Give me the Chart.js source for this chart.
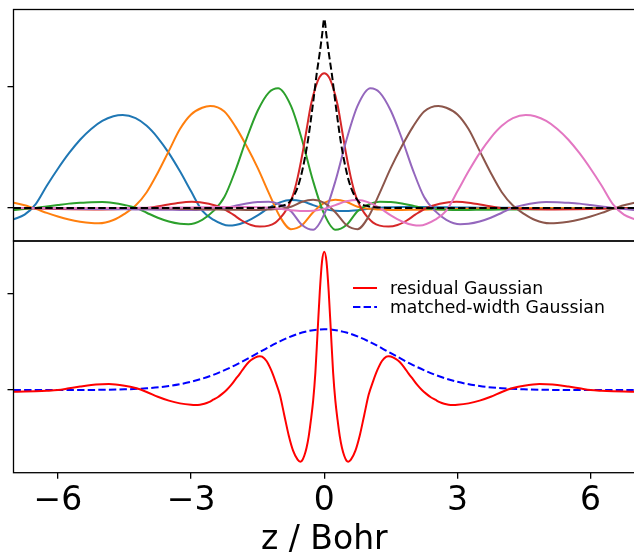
<!DOCTYPE html>
<html>
<head>
<meta charset="utf-8">
<script src="https://cdn.jsdelivr.net/npm/chart.js@4.4.0/dist/chart.umd.min.js"></script>
<style>
html,body{margin:0;padding:0;background:#fff;overflow:hidden;}
#wrap{position:relative;width:634px;height:555px;overflow:hidden;font-family:"DejaVu Sans",sans-serif;}
#wrap canvas{position:absolute;left:0;top:0;}
#legend{position:absolute;left:353px;top:279px;font-size:17.3px;color:#000;}
.row{display:flex;align-items:center;height:18.4px;white-space:nowrap;}
.row svg{margin-right:13px;}
</style>
</head>
<body>
<div id="wrap">
  <canvas id="topChart" width="640" height="555"></canvas>
  <canvas id="bottomChart" width="640" height="555"></canvas>
  <div id="legend">
    <div class="row"><svg width="24" height="4"><line x1="0" y1="2" x2="24" y2="2" stroke="#ff0000" stroke-width="2"/></svg>residual Gaussian</div>
    <div class="row"><svg width="24" height="4"><line x1="0" y1="2" x2="24" y2="2" stroke="#0000ff" stroke-width="2" stroke-dasharray="7.4 3.2"/></svg>matched-width Gaussian</div>
  </div>
</div>
<script>
// ---------- DATA ----------
const X_TICKS = [-6, -3, 0, 3, 6];
const Y_TICKS = [0, 1];

// top panel: localized functions (z in Bohr)
const BLUE_Z = [-7,-6.75,-6.5,-6.25,-6,-5.75,-5.5,-5.25,-5,-4.75,-4.54,-4.25,-4,-3.75,-3.5,-3.25,-3,-2.75,-2.5,-2.15,-2,-1.75,-1.5,-1.25,-1,-0.75,-0.5,-0.25,0,0.25,0.5,0.75,1,1.25,1.5,1.75,2,2.25,2.5,2.75,3,3.25,3.5,3.75,4,4.25,4.5,4.75,5,5.25,5.5,5.75,6,6.25,6.5,6.75,7];
const BLUE_V = [-0.093,-0.055,0.032,0.183,0.323,0.451,0.562,0.651,0.717,0.755,0.765,0.739,0.676,0.578,0.452,0.302,0.137,-0.022,-0.096,-0.145,-0.140,-0.111,-0.061,0,0.046,0.066,0.055,0.024,-0.007,-0.022,-0.024,-0.018,-0.006,0.003,0.006,0.008,0.008,0.008,0.007,0.006,0.005,0.004,0.003,0.002,0.002,0.001,0,0,0,0,0,0,0,0,0,0,0];

const ORANGE_Z = [-7,-6.75,-6.5,-6.25,-6,-5.75,-5.5,-5.25,-5.08,-4.75,-4.5,-4.25,-4,-3.75,-3.5,-3.25,-3,-2.75,-2.57,-2.25,-2,-1.75,-1.5,-1.25,-1,-0.75,-0.5,-0.25,0,0.25,0.5,0.75,1,1.25,1.5,1.75,2,2.25,2.5,2.75,3,3.25,3.5,3.75,4,4.25,4.5,4.75,5,5.25,5.5,5.75,6,6.25,6.5,6.75,7];
const ORANGE_V = [0.043,0.022,-0.007,-0.040,-0.070,-0.095,-0.113,-0.124,-0.126,-0.099,-0.049,0.02,0.13,0.29,0.47,0.65,0.77,0.825,0.84,0.795,0.67,0.51,0.33,0.125,-0.07,-0.174,-0.140,-0.035,0.042,0.068,0.051,0.01,-0.007,-0.013,-0.016,-0.016,-0.015,-0.014,-0.012,-0.011,-0.009,-0.007,-0.005,-0.003,-0.002,-0.001,0,0,0,0,0,0,0,0,0,0,0];

const GREEN_Z = [-7,-6.75,-6.5,-6.25,-6,-5.75,-5.5,-5.25,-5,-4.75,-4.5,-4.25,-4,-3.75,-3.5,-3.25,-3.06,-2.75,-2.5,-2.25,-2,-1.75,-1.5,-1.25,-1.04,-0.75,-0.5,-0.25,0,0.25,0.5,0.75,1,1.25,1.5,1.75,2,2.25,2.5,2.75,3,3.25,3.5,3.75,4,4.25,4.5,4.75,5,5.25,5.5,5.75,6,6.25,6.5,6.75,7];
const GREEN_V = [-0.016,-0.009,0,0.013,0.025,0.036,0.043,0.048,0.049,0.041,0.025,0.003,-0.039,-0.080,-0.111,-0.130,-0.134,-0.097,-0.026,0.09,0.31,0.57,0.80,0.95,0.985,0.84,0.56,0.22,-0.051,-0.179,-0.140,-0.027,0.030,0.051,0.049,0.037,0.018,-0.003,-0.010,-0.014,-0.016,-0.016,-0.015,-0.014,-0.013,-0.012,-0.011,-0.010,-0.009,-0.008,-0.007,-0.006,-0.004,-0.003,-0.002,-0.001,0];

const RED_Z = [-7,-6,-5,-4.5,-4,-3.4,-2.98,-2.6,-2.3,-2.05,-1.85,-1.65,-1.45,-1.25,-1.1,-1,-0.9,-0.8,-0.7,-0.6,-0.5,-0.4,-0.3,-0.2,-0.1,0,0.1,0.2,0.3,0.4,0.5,0.6,0.7,0.8,0.9,1,1.1,1.25,1.45,1.65,1.85,2.05,2.3,2.6,2.98,3.4,4,4.5,5,6,7];
const RED_V = [0,-0.008,-0.012,-0.009,0,0.035,0.052,0.035,0,-0.055,-0.105,-0.14,-0.153,-0.145,-0.12,-0.085,-0.04,0.02,0.11,0.25,0.43,0.64,0.85,0.99,1.08,1.109,1.08,0.99,0.85,0.64,0.43,0.25,0.11,0.02,-0.04,-0.085,-0.12,-0.145,-0.153,-0.14,-0.105,-0.055,0,0.035,0.052,0.035,0,-0.009,-0.012,-0.008,0];

const PURPLE_Z = [-7,-6.75,-6.5,-6.25,-6,-5.75,-5.5,-5.25,-5,-4.75,-4.5,-4.25,-4,-3.75,-3.5,-3.25,-3,-2.75,-2.5,-2.25,-2,-1.75,-1.5,-1.25,-1,-0.75,-0.5,-0.25,0,0.25,0.5,0.75,1.04,1.25,1.5,1.75,2,2.25,2.5,2.75,3.06,3.25,3.5,3.75,4,4.25,4.5,4.75,5,5.25,5.5,5.75,6,6.25,6.5,6.75,7];
const PURPLE_V = [0,-0.001,-0.002,-0.003,-0.004,-0.006,-0.007,-0.008,-0.009,-0.010,-0.011,-0.012,-0.013,-0.014,-0.015,-0.016,-0.016,-0.014,-0.010,-0.003,0.018,0.037,0.049,0.051,0.030,-0.027,-0.140,-0.179,-0.051,0.22,0.56,0.84,0.985,0.95,0.80,0.57,0.31,0.09,-0.026,-0.097,-0.134,-0.130,-0.111,-0.080,-0.039,0.003,0.025,0.041,0.049,0.048,0.043,0.036,0.025,0.013,0,-0.009,-0.016];

const BROWN_Z = [-7,-6.75,-6.5,-6.25,-6,-5.75,-5.5,-5.25,-5,-4.75,-4.5,-4.25,-4,-3.75,-3.5,-3.25,-3,-2.75,-2.5,-2.25,-2,-1.75,-1.5,-1.25,-1,-0.75,-0.5,-0.25,0,0.25,0.5,0.75,1,1.25,1.5,1.75,2,2.25,2.57,2.75,3,3.25,3.5,3.75,4,4.25,4.5,4.75,5.08,5.25,5.5,5.75,6,6.25,6.5,6.75,7];
const BROWN_V = [0,0,0,0,0,0,0,0,0,0,0,-0.001,-0.002,-0.003,-0.005,-0.007,-0.009,-0.011,-0.012,-0.014,-0.015,-0.016,-0.016,-0.013,-0.007,0.01,0.051,0.068,0.042,-0.035,-0.140,-0.174,-0.07,0.125,0.33,0.51,0.67,0.795,0.84,0.825,0.77,0.65,0.47,0.29,0.13,0.02,-0.049,-0.099,-0.126,-0.124,-0.113,-0.095,-0.070,-0.040,-0.007,0.022,0.043];

const PINK_Z = [-7,-6.75,-6.5,-6.25,-6,-5.75,-5.5,-5.25,-5,-4.75,-4.5,-4.25,-4,-3.75,-3.5,-3.25,-3,-2.75,-2.5,-2.25,-2,-1.75,-1.5,-1.25,-1,-0.75,-0.5,-0.25,0,0.25,0.5,0.75,1,1.25,1.5,1.75,2,2.15,2.5,2.75,3,3.25,3.5,3.75,4,4.25,4.54,4.75,5,5.25,5.5,5.75,6,6.25,6.5,6.75,7];
const PINK_V = [0,0,0,0,0,0,0,0,0,0,0,0.001,0.002,0.002,0.003,0.004,0.005,0.006,0.007,0.008,0.008,0.008,0.006,0.003,-0.006,-0.018,-0.024,-0.022,-0.007,0.024,0.055,0.066,0.046,0,-0.061,-0.111,-0.140,-0.145,-0.096,-0.022,0.137,0.302,0.452,0.578,0.676,0.739,0.765,0.755,0.717,0.651,0.562,0.451,0.323,0.183,0.032,-0.055,-0.093];

const BLACK_Z = [-7,-1.6,-1.3,-1.0,-0.78,-0.6,-0.5,-0.37,-0.25,-0.17,-0.1,-0.05,0,0.05,0.1,0.17,0.25,0.37,0.5,0.6,0.78,1.0,1.3,1.6,7];
const BLACK_V = [0,0,0.003,0.015,0.05,0.17,0.30,0.55,0.87,1.105,1.28,1.42,1.556,1.42,1.28,1.105,0.87,0.55,0.30,0.17,0.05,0.015,0.003,0,0];

// bottom panel
const RES_Z = [-7,-6.75,-6.5,-6.25,-6,-5.75,-5.5,-5.25,-5,-4.85,-4.5,-4.25,-4,-3.75,-3.5,-3.25,-3,-2.9,-2.8,-2.7,-2.6,-2.5,-2.4,-2.3,-2.2,-2.1,-2,-1.9,-1.8,-1.7,-1.6,-1.5,-1.45,-1.4,-1.3,-1.2,-1.1,-1,-0.9,-0.8,-0.7,-0.6,-0.54,-0.5,-0.45,-0.4,-0.35,-0.3,-0.25,-0.2,-0.15,-0.1,-0.05,0,
               0.05,0.1,0.15,0.2,0.25,0.3,0.35,0.4,0.45,0.5,0.54,0.6,0.7,0.8,0.9,1,1.1,1.2,1.3,1.4,1.45,1.5,1.6,1.7,1.8,1.9,2,2.1,2.2,2.3,2.4,2.5,2.6,2.7,2.8,2.9,3,3.25,3.5,3.75,4,4.25,4.5,4.85,5,5.25,5.5,5.75,6,6.25,6.5,6.75,7];
const RES_V = [-0.017,-0.016,-0.013,-0.008,0,0.018,0.036,0.052,0.060,0.062,0.045,0.02,-0.02,-0.07,-0.11,-0.138,-0.153,-0.155,-0.152,-0.142,-0.125,-0.10,-0.075,-0.04,0,0.05,0.11,0.17,0.235,0.29,0.325,0.347,0.35,0.345,0.30,0.21,0.09,-0.05,-0.26,-0.47,-0.63,-0.72,-0.741,-0.73,-0.68,-0.60,-0.48,-0.31,-0.11,0.18,0.60,1.02,1.33,1.43,
               1.33,1.02,0.60,0.18,-0.11,-0.31,-0.48,-0.60,-0.68,-0.73,-0.741,-0.72,-0.63,-0.47,-0.26,-0.05,0.09,0.21,0.30,0.345,0.35,0.347,0.325,0.29,0.235,0.17,0.11,0.05,0,-0.04,-0.075,-0.10,-0.125,-0.142,-0.152,-0.155,-0.153,-0.138,-0.11,-0.07,-0.02,0.02,0.045,0.062,0.060,0.052,0.036,0.018,0,-0.008,-0.013,-0.016,-0.017];

const MATCH_Z = [-7,-6.5,-6,-5.5,-5,-4.5,-4,-3.5,-3,-2.5,-2,-1.5,-1,-0.5,0,0.5,1,1.5,2,2.5,3,3.5,4,4.5,5,5.5,6,6.5,7];
const MATCH_V = [0,0,0,0.001,0.002,0.007,0.018,0.041,0.085,0.157,0.258,0.381,0.503,0.594,0.628,0.594,0.503,0.381,0.258,0.157,0.085,0.041,0.018,0.007,0.002,0.001,0,0,0];

// ---------- HELPERS ----------
const FONT = "'DejaVu Sans', sans-serif";
const pts = (zs, vs) => zs.map((z, i) => ({x: z, y: vs[i]}));

function line(zs, vs, color, order, dash) {
  return { data: pts(zs, vs), borderColor: color, borderWidth: 2, borderDash: dash || [],
           showLine: true, pointRadius: 0, cubicInterpolationMode: 'monotone', order: order };
}

function yAxis(min, max) {
  return {
    type: 'linear', min: min, max: max,
    afterBuildTicks: s => { s.ticks = Y_TICKS.map(v => ({value: v})); },
    afterFit: s => { s.width = 10; },
    ticks: { display: false },
    grid: { drawOnChartArea: false, drawTicks: true, tickLength: 6, color: '#000', lineWidth: 1.3 },
    border: { display: false }
  };
}

// axes box on all four sides
const frame = {
  id: 'frame',
  afterDatasetsDraw(chart) {
    const {ctx, chartArea: a} = chart;
    ctx.save();
    ctx.strokeStyle = '#000';
    ctx.lineWidth = 1.3;
    ctx.strokeRect(a.left, a.top, a.right - a.left, a.bottom - a.top);
    ctx.restore();
  }
};

const common = {
  responsive: false, animation: false,
  plugins: { legend: { display: false }, tooltip: { enabled: false } }
};

// ---------- TOP CHART ----------
new Chart(document.getElementById('topChart'), {
  type: 'scatter',
  data: { datasets: [
    line(BLACK_Z, BLACK_V, '#000000', 0, [7.4, 3.2]),
    line(PINK_Z, PINK_V, '#e377c2', 1),
    line(BROWN_Z, BROWN_V, '#8c564b', 2),
    line(PURPLE_Z, PURPLE_V, '#9467bd', 3),
    line(RED_Z, RED_V, '#d62728', 4),
    line(GREEN_Z, GREEN_V, '#2ca02c', 5),
    line(ORANGE_Z, ORANGE_V, '#ff7f0e', 6),
    line(BLUE_Z, BLUE_V, '#1f77b4', 7)
  ]},
  options: { ...common,
    layout: { padding: { left: 3.5, top: 9.5, right: 5, bottom: 314 } },
    scales: {
      x: { type: 'linear', min: -7, max: 7, display: false },
      y: yAxis(-0.2716, 1.6337)
    }
  },
  plugins: [frame]
});

// ---------- BOTTOM CHART ----------
new Chart(document.getElementById('bottomChart'), {
  type: 'scatter',
  data: { datasets: [
    line(RES_Z, RES_V, '#ff0000', 0),
    line(MATCH_Z, MATCH_V, '#0000ff', 1, [7.4, 3.2])
  ]},
  options: { ...common,
    layout: { padding: { left: 3.5, top: 241, right: 5, bottom: 0 } },
    scales: {
      x: {
        type: 'linear', min: -7, max: 7,
        afterBuildTicks: s => { s.ticks = X_TICKS.map(v => ({value: v})); },
        afterFit: s => { s.height = 82.3; },
        ticks: { color: '#000', font: { family: FONT, size: 33 }, padding: 3, maxRotation: 0, autoSkip: false,
                 callback: v => (v < 0 ? '\u2212' : '') + Math.abs(v) },
        grid: { drawOnChartArea: false, drawTicks: true, tickLength: 6, color: '#000', lineWidth: 1.3 },
        border: { display: false },
        title: { display: true, text: 'z / Bohr', color: '#000', font: { family: FONT, size: 33, lineHeight: 1 },
                 padding: { top: 0, bottom: -1.5 } }
      },
      y: yAxis(-0.855, 1.541)
    }
  },
  plugins: [frame]
});
</script>
</body>
</html>
